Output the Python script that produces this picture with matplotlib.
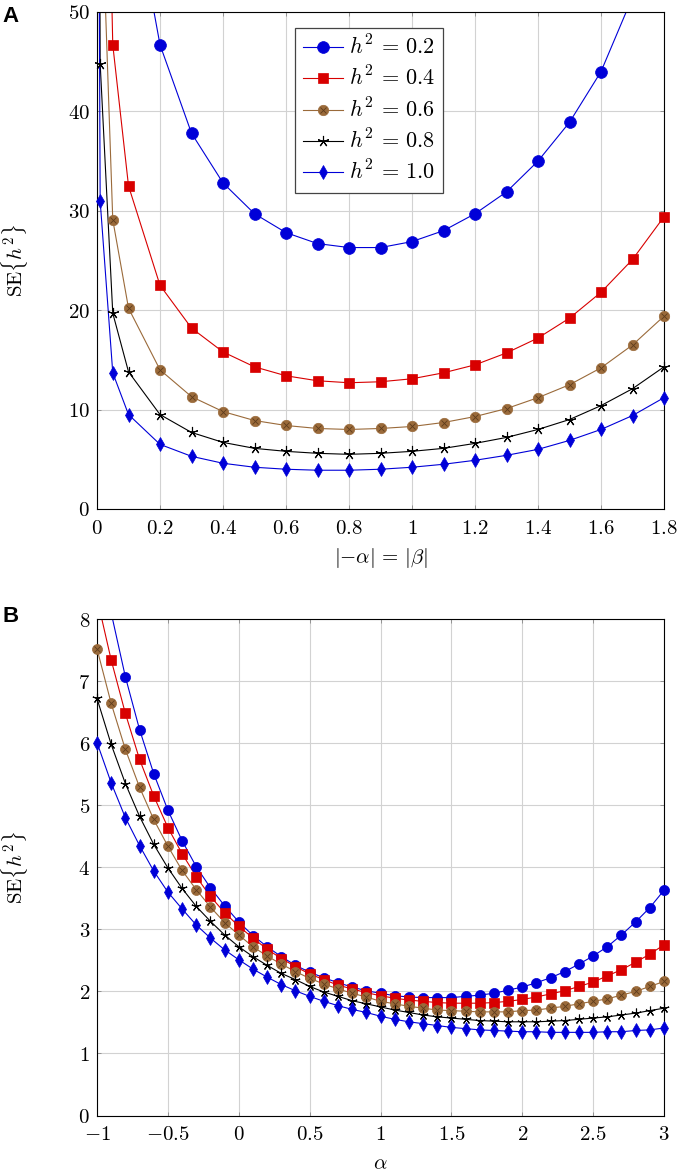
import numpy as np
import matplotlib
matplotlib.use("Agg")
import matplotlib.pyplot as plt
from matplotlib.legend_handler import HandlerTuple

plt.rcParams['mathtext.fontset'] = 'cm'
plt.rcParams['font.family'] = ['DejaVu Serif']

# ---------------- Panel A data ----------------
x_a = [0.001, 0.01, 0.05, 0.1, 0.2, 0.3, 0.4, 0.5, 0.6, 0.7, 0.8, 0.9, 1.0,
       1.1, 1.2, 1.3, 1.4, 1.5, 1.6, 1.7, 1.8]
a_h02 = [660, 210, 93, 64, 46.7, 37.8, 32.8, 29.7, 27.8, 26.7, 26.3, 26.3, 26.9,
         28.0, 29.7, 31.9, 35.0, 38.9, 44.0, 51.5, 61.0]
a_h04 = [330, 105, 46.7, 32.5, 22.5, 18.2, 15.8, 14.3, 13.4, 12.9, 12.7, 12.8, 13.1,
         13.7, 14.5, 15.7, 17.2, 19.2, 21.8, 25.1, 29.4]
a_h06 = [210, 66, 29.1, 20.2, 14.0, 11.3, 9.8, 8.9, 8.4, 8.1, 8.0, 8.1, 8.3,
         8.7, 9.3, 10.1, 11.2, 12.5, 14.2, 16.5, 19.4]
a_h08 = [142, 44.8, 19.7, 13.8, 9.5, 7.7, 6.7, 6.1, 5.8, 5.6, 5.5, 5.6, 5.8,
         6.1, 6.6, 7.2, 8.0, 9.0, 10.4, 12.1, 14.3]
a_h10 = [98, 31.0, 13.7, 9.5, 6.5, 5.3, 4.6, 4.2, 4.0, 3.9, 3.9, 4.0, 4.2,
         4.5, 4.9, 5.4, 6.0, 6.9, 8.0, 9.4, 11.2]

# ---------------- Panel B data ----------------
x_b = [round(-1 + 0.1 * i, 1) for i in range(41)]
b_h02 = [9.0, 8.1, 7.07, 6.22, 5.51, 4.92, 4.43, 4.01, 3.67, 3.38, 3.12, 2.90, 2.72, 2.56,
         2.42, 2.31, 2.22, 2.14, 2.07, 2.01, 1.97, 1.93, 1.91, 1.90, 1.90, 1.90, 1.92, 1.94,
         1.97, 2.02, 2.07, 2.14, 2.22, 2.32, 2.44, 2.57, 2.72, 2.91, 3.12, 3.35, 3.63]
b_h04 = [8.34, 7.34, 6.48, 5.74, 5.15, 4.64, 4.22, 3.85, 3.53, 3.27, 3.05, 2.86, 2.68, 2.53,
         2.40, 2.28, 2.19, 2.10, 2.04, 1.98, 1.93, 1.89, 1.86, 1.84, 1.82, 1.81, 1.81, 1.81,
         1.82, 1.84, 1.87, 1.91, 1.96, 2.01, 2.08, 2.15, 2.25, 2.35, 2.47, 2.60, 2.75]
b_h06 = [7.52, 6.64, 5.90, 5.29, 4.77, 4.34, 3.95, 3.64, 3.36, 3.11, 2.91, 2.72, 2.57, 2.44,
         2.32, 2.21, 2.12, 2.04, 1.97, 1.91, 1.84, 1.80, 1.76, 1.73, 1.70, 1.69, 1.68, 1.67,
         1.67, 1.67, 1.69, 1.70, 1.73, 1.76, 1.80, 1.84, 1.88, 1.94, 2.00, 2.08, 2.16]
b_h08 = [6.72, 5.98, 5.35, 4.82, 4.37, 3.99, 3.66, 3.37, 3.13, 2.91, 2.72, 2.56, 2.42, 2.29,
         2.19, 2.08, 1.99, 1.92, 1.85, 1.80, 1.75, 1.70, 1.66, 1.62, 1.59, 1.57, 1.55, 1.53,
         1.52, 1.51, 1.51, 1.51, 1.52, 1.53, 1.55, 1.57, 1.59, 1.62, 1.65, 1.69, 1.73]
b_h10 = [6.01, 5.36, 4.80, 4.35, 3.94, 3.60, 3.33, 3.07, 2.86, 2.67, 2.51, 2.36, 2.23, 2.11,
         2.01, 1.92, 1.84, 1.77, 1.71, 1.66, 1.60, 1.55, 1.51, 1.48, 1.45, 1.42, 1.40, 1.38,
         1.37, 1.36, 1.35, 1.35, 1.34, 1.34, 1.34, 1.34, 1.35, 1.35, 1.37, 1.38, 1.41]

labels = [r'$h^2\,=\,0.2$', r'$h^2\,=\,0.4$', r'$h^2\,=\,0.6$', r'$h^2\,=\,0.8$', r'$h^2\,=\,1.0$']

a_xticks = [0, 0.2, 0.4, 0.6, 0.8, 1.0, 1.2, 1.4, 1.6, 1.8]
a_xticklabels = ['0', '0.2', '0.4', '0.6', '0.8', '1', '1.2', '1.4', '1.6', '1.8']
a_yticks = [0, 10, 20, 30, 40, 50]
b_xticks = [-1, -0.5, 0, 0.5, 1, 1.5, 2, 2.5, 3]
b_xticklabels = ['-1', '-0.5', '0', '0.5', '1', '1.5', '2', '2.5', '3']
b_yticks = [0, 1, 2, 3, 4, 5, 6, 7, 8]

BLUE = '#0000d8'
RED = '#d80000'
BROWN = '#9a6a3a'
BROWN_X = '#5e3c1c'
BLACK = 'black'

star5 = (5, 2, 0)

fig = plt.figure(figsize=(6.77, 11.72), dpi=100)
axA = fig.add_axes([0.1433, 0.5657, 0.8375, 0.4241])
axB = fig.add_axes([0.1433, 0.0482, 0.8375, 0.4236])


def draw(ax, x, ys, ymax, sizes, lw=0.8):
    x = np.asarray(x, float)
    handles = []
    styles = [
        dict(color=BLUE, marker='o', mfc=BLUE, mec=BLUE),
        dict(color=RED, marker='s', mfc=RED, mec=RED),
        dict(color=BROWN, marker='o', mfc=BROWN, mec=BROWN),
        dict(color=BLACK, marker=star5, mfc=BLACK, mec=BLACK),
        dict(color=BLUE, marker='d', mfc=BLUE, mec=BLUE),
    ]
    for i, (y, st) in enumerate(zip(ys, styles)):
        y = np.asarray(y, float)
        ax.plot(x, y, color=st['color'], lw=lw, zorder=3)
        m = (y <= ymax)
        mew = 0.8 if i == 3 else 0.5
        ax.plot(x[m], y[m], ls='none', marker=st['marker'], ms=sizes[i],
                mfc=st['mfc'], mec=st['mec'], mew=mew, clip_on=False, zorder=4)
        hl, = ax.plot([], [], color=st['color'], lw=lw, marker=st['marker'], ms=sizes[i],
                      mfc=st['mfc'], mec=st['mec'], mew=mew)
        if i == 2:
            ax.plot(x[m], y[m], ls='none', marker='x', ms=sizes[i] * 0.62,
                    mec=BROWN_X, mew=0.6, clip_on=False, zorder=5)
            hxl, = ax.plot([], [], ls='none', marker='x', ms=sizes[i] * 0.62,
                           mec=BROWN_X, mew=0.6)
            handles.append((hl, hxl))
        else:
            handles.append(hl)
    return handles


def style(ax, xlim, ylim, xticks, xticklabels, yticks):
    ax.set_xlim(*xlim)
    ax.set_ylim(*ylim)
    ax.set_xticks(xticks)
    ax.set_xticklabels(['$%s$' % s for s in xticklabels])
    ax.set_yticks(yticks)
    ax.set_yticklabels(['$%d$' % v for v in yticks])
    ax.grid(True, color='#d2d2d2', lw=0.8, zorder=0)
    ax.set_axisbelow(True)
    for s in ax.spines.values():
        s.set_linewidth(0.8)
        s.set_color('black')
        s.set_zorder(3.5)
    ax.tick_params(direction='in', length=3, width=0.6, color='#888888',
                   top=True, right=True, labelsize=15)
    ax.tick_params(axis='x', pad=7)
    ax.tick_params(axis='y', pad=5)


hA = draw(axA, x_a, [a_h02, a_h04, a_h06, a_h08, a_h10], 50, [8.5, 7.8, 7.5, 8, 7.5])
style(axA, (0, 1.8), (0, 50), a_xticks, a_xticklabels, a_yticks)
axA.set_xlabel(r'$|{-}\alpha|\,=\,|\beta|$', fontsize=15)
axA.xaxis.set_label_coords(0.5, -0.075)
axA.set_ylabel(r'$\mathrm{SE}\{h^2\}$', fontsize=15)
axA.yaxis.set_label_coords(-0.118, 0.5)

leg = axA.legend(hA, labels, loc='upper left', bbox_to_anchor=(0.349, 0.968),
                 borderaxespad=0, fontsize=16, frameon=True, fancybox=False,
                 framealpha=1, edgecolor='#444444', handlelength=1.8,
                 handletextpad=0.3, labelspacing=0.33, borderpad=0.35,
                 handler_map={tuple: HandlerTuple(ndivide=1)})
leg.get_frame().set_linewidth(0.9)
leg.set_zorder(10)

draw(axB, x_b, [b_h02, b_h04, b_h06, b_h08, b_h10], 8, [7.3, 6.6, 7.2, 7, 7])
style(axB, (-1, 3), (0, 8), b_xticks, b_xticklabels, b_yticks)
axB.set_xlabel(r'$\alpha$', fontsize=15)
axB.xaxis.set_label_coords(0.5, -0.078)
axB.set_ylabel(r'$\mathrm{SE}\{h^2\}$', fontsize=15)
axB.yaxis.set_label_coords(-0.118, 0.5)

fig.text(0.004, 1 - 22 / 1172, 'A', fontsize=16, fontweight='bold',
         family=['Liberation Sans', 'DejaVu Sans'], va='baseline', ha='left')
fig.text(0.004, 1 - 622 / 1172, 'B', fontsize=16, fontweight='bold',
         family=['Liberation Sans', 'DejaVu Sans'], va='baseline', ha='left')

fig.savefig('out.png', dpi=100)
